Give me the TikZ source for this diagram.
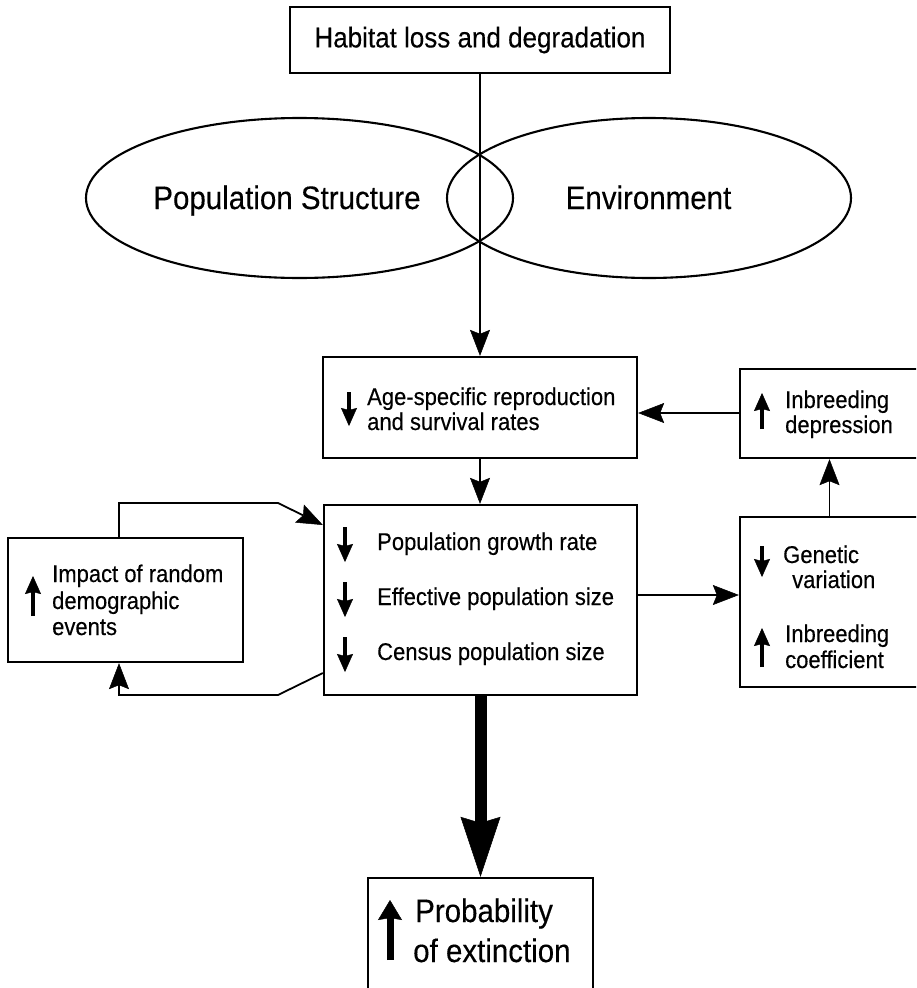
\documentclass[tikz,border=0pt]{standalone}
\usepackage{fontspec}
\usepackage{graphicx}
\setmainfont{Liberation Sans}[FakeBold=0.3]
\usetikzlibrary{arrows.meta,shapes.geometric}
\newcommand\vs[1]{\scalebox{1}[1.1]{#1}}
\begin{document}
\begin{tikzpicture}[x=1pt,y=-1pt,
  boxnode/.style={draw,line width=2.3pt,rectangle,inner sep=0pt},
  ell/.style={draw,line width=2.1pt,ellipse,inner sep=0pt},
  conn/.style={line width=1.8pt,-{Stealth[length=26pt,width=20pt,inset=4pt,line width=0.5pt]}},
  bigconn/.style={line width=12pt,-{Stealth[length=60pt,width=40pt,inset=6pt,line width=0.5pt]}},
  sarr/.style={line width=3.8pt,-{Stealth[length=18pt,width=16pt,inset=2pt,line width=0.4pt]}},
  parr/.style={line width=7pt,-{Stealth[length=20pt,width=24pt,inset=2pt,line width=0.4pt]}},
  txt/.style={anchor=base west,inner sep=0pt,font=\fontsize{22}{26}\selectfont},
  bigtxt/.style={anchor=base west,inner sep=0pt,font=\fontsize{29.5}{34}\selectfont},
  elltxt/.style={anchor=base,inner sep=0pt,font=\fontsize{29.5}{34}\selectfont}
]
\clip (0,0) rectangle (916,988);
\fill[white] (0,0) rectangle (916,988);

% boxes
\node[boxnode,minimum width=380pt,minimum height=66pt,font=\fontsize{26}{30}\selectfont] (top) at (480,40) {\vs{Habitat loss and degradation}};
\node[boxnode,minimum width=314pt,minimum height=101pt] (age) at (480,407.5) {};
\node[boxnode,minimum width=313pt,minimum height=190pt] (main) at (480.5,600) {};
\node[boxnode,minimum width=235pt,minimum height=124pt] (left) at (125.5,600) {};
\node[boxnode,minimum width=179pt,minimum height=89pt] (inb) at (829.5,413.5) {};
\node[boxnode,minimum width=179pt,minimum height=170pt] (gen) at (829.5,602) {};
\node[boxnode,minimum width=225pt,minimum height=114pt] (prob) at (480.5,935) {};

% ellipses
\node[ell,minimum width=427pt,minimum height=160pt] (ps) at (299.5,198) {};
\node[ell,minimum width=404pt,minimum height=160pt] (env) at (649,198) {};
\node[elltxt] (pstxt) at (287,209) {\vs{Population Structure}};
\node[elltxt] (envtxt) at (648.5,209) {\vs{Environment}};

% texts
\node[txt] (a1) at (367,405) {\vs{Age-specific reproduction}};
\node[txt] (a2) at (367,430) {\vs{and survival rates}};
\draw[sarr] (349,392) -- (349,426);

\node[txt] (m1) at (377,550) {\vs{Population growth rate}};
\node[txt] (m2) at (377,605) {\vs{Effective population size}};
\node[txt] (m3) at (377,660) {\vs{Census population size}};
\draw[sarr] (345,527) -- (345,562);
\draw[sarr] (345,582) -- (345,617);
\draw[sarr] (345,637) -- (345,672);

\node[txt] (l1) at (52,582) {\vs{Impact of random}};
\node[txt] (l2) at (52,609) {\vs{demographic}};
\node[txt] (l3) at (52,635) {\vs{events}};
\draw[sarr] (33,616) -- (33,576);

\node[txt] (i1) at (785,408) {\vs{Inbreeding}};
\node[txt] (i2) at (785,433) {\vs{depression}};
\draw[sarr] (762,429) -- (762,393);

\node[txt] (g1) at (783,563) {\vs{Genetic}};
\node[txt] (g2) at (792,588) {\vs{variation}};
\node[txt] (g3) at (785,642) {\vs{Inbreeding}};
\node[txt] (g4) at (785,668) {\vs{coefficient}};
\draw[sarr] (762,546) -- (762,577);
\draw[sarr] (762,667) -- (762,628);

\node[bigtxt] (p1) at (415,922) {\vs{Probability}};
\node[bigtxt] (p2) at (413,962) {\vs{of extinction}};
\draw[parr] (390,960) -- (390,900);

% connectors
\draw[conn] (top.south) -- (age.north);
\draw[conn] (age.south) -- (age.south |- main.north);
\coordinate (ia) at (740,413);
\draw[conn] (inb.west |- ia) -- (age.east |- ia);
\coordinate (mg) at (700,595);
\draw[conn] (main.east |- mg) -- (gen.west |- mg);
\draw[conn] (gen.north) -- (inb.south);
\coordinate (lt1) at (119,503);
\coordinate (lt2) at (278,503);
\coordinate (lt3) at (324,525);
\draw[conn] (left.north -| lt1) -- (lt1) -- (lt2) -- (main.west |- lt3);
\coordinate (lb1) at (324,673);
\coordinate (lb2) at (278,695);
\coordinate (lb3) at (119,695);
\draw[conn] (main.west |- lb1) -- (lb2) -- (lb3) -- (left.south -| lb3);
\draw[bigconn] (main.south) -- (prob.north);
\end{tikzpicture}
\end{document}
